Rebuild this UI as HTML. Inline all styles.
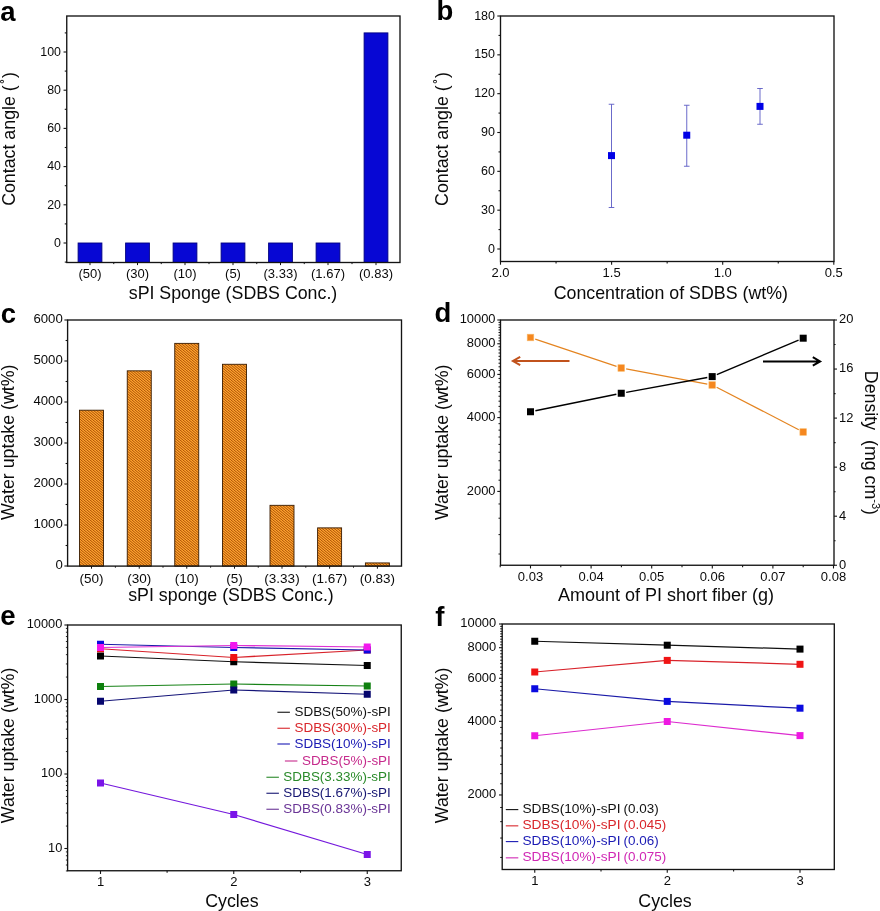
<!DOCTYPE html>
<html lang="en"><head><meta charset="utf-8"><title>Figure</title>
<style>html,body{margin:0;padding:0;background:#fff}svg{display:block}text{font-family:"Liberation Sans",Arial,sans-serif}</style></head><body>
<svg width="880" height="911" viewBox="0 0 880 911">
<defs><pattern id="hatch" width="12" height="10" patternUnits="userSpaceOnUse"><rect width="12" height="10" fill="#fda22e"/><path d="M-15 0 L-3 10 M-12 0 L0 10 M-9 0 L3 10 M-6 0 L6 10 M-3 0 L9 10 M0 0 L12 10 M3 0 L15 10 M6 0 L18 10 M9 0 L21 10 M12 0 L24 10 " stroke="#9c4200" stroke-width="0.85" fill="none"/></pattern></defs>
<rect width="880" height="911" fill="#fff"/>
<text x="0.3" y="20.5" font-size="27.5" text-anchor="start" fill="#000" font-weight="bold" >a</text>
<text x="436.5" y="20" font-size="27.5" text-anchor="start" fill="#000" font-weight="bold" >b</text>
<text x="0.7" y="322.6" font-size="27.5" text-anchor="start" fill="#000" font-weight="bold" >c</text>
<text x="434.6" y="322.4" font-size="27.5" text-anchor="start" fill="#000" font-weight="bold" >d</text>
<text x="0.3" y="624.7" font-size="27.5" text-anchor="start" fill="#000" font-weight="bold" >e</text>
<text x="435.3" y="625.9" font-size="27.5" text-anchor="start" fill="#000" font-weight="bold" >f</text>
<rect x="78.1" y="243" width="23.8" height="19.5" fill="#0707d4" stroke="#000080" stroke-width="0.9" />
<rect x="125.6" y="243" width="23.8" height="19.5" fill="#0707d4" stroke="#000080" stroke-width="0.9" />
<rect x="173.1" y="243" width="23.8" height="19.5" fill="#0707d4" stroke="#000080" stroke-width="0.9" />
<rect x="221.1" y="243" width="23.8" height="19.5" fill="#0707d4" stroke="#000080" stroke-width="0.9" />
<rect x="268.6" y="243" width="23.8" height="19.5" fill="#0707d4" stroke="#000080" stroke-width="0.9" />
<rect x="316.1" y="243" width="23.8" height="19.5" fill="#0707d4" stroke="#000080" stroke-width="0.9" />
<rect x="364.1" y="32.9" width="23.8" height="229.6" fill="#0707d4" stroke="#000080" stroke-width="0.9" />
<rect x="66.75" y="16" width="333.25" height="246.5" fill="none" stroke="#141414" stroke-width="1.35"/>
<line x1="63.55" y1="243" x2="66.75" y2="243" stroke="#141414" stroke-width="1.1" />
<line x1="63.55" y1="204.8" x2="66.75" y2="204.8" stroke="#141414" stroke-width="1.1" />
<line x1="63.55" y1="166.6" x2="66.75" y2="166.6" stroke="#141414" stroke-width="1.1" />
<line x1="63.55" y1="128.4" x2="66.75" y2="128.4" stroke="#141414" stroke-width="1.1" />
<line x1="63.55" y1="90.2" x2="66.75" y2="90.2" stroke="#141414" stroke-width="1.1" />
<line x1="63.55" y1="52" x2="66.75" y2="52" stroke="#141414" stroke-width="1.1" />
<line x1="64.75" y1="262.1" x2="66.75" y2="262.1" stroke="#141414" stroke-width="1.1" />
<line x1="64.75" y1="223.9" x2="66.75" y2="223.9" stroke="#141414" stroke-width="1.1" />
<line x1="64.75" y1="185.7" x2="66.75" y2="185.7" stroke="#141414" stroke-width="1.1" />
<line x1="64.75" y1="147.5" x2="66.75" y2="147.5" stroke="#141414" stroke-width="1.1" />
<line x1="64.75" y1="109.3" x2="66.75" y2="109.3" stroke="#141414" stroke-width="1.1" />
<line x1="64.75" y1="71.1" x2="66.75" y2="71.1" stroke="#141414" stroke-width="1.1" />
<line x1="64.75" y1="32.9" x2="66.75" y2="32.9" stroke="#141414" stroke-width="1.1" />
<line x1="113.75" y1="262.5" x2="113.75" y2="264.1" stroke="#141414" stroke-width="1.0" />
<line x1="161.25" y1="262.5" x2="161.25" y2="264.1" stroke="#141414" stroke-width="1.0" />
<line x1="209" y1="262.5" x2="209" y2="264.1" stroke="#141414" stroke-width="1.0" />
<line x1="256.75" y1="262.5" x2="256.75" y2="264.1" stroke="#141414" stroke-width="1.0" />
<line x1="304.25" y1="262.5" x2="304.25" y2="264.1" stroke="#141414" stroke-width="1.0" />
<line x1="352" y1="262.5" x2="352" y2="264.1" stroke="#141414" stroke-width="1.0" />
<line x1="90" y1="262.5" x2="90" y2="265.1" stroke="#141414" stroke-width="1.0" />
<line x1="137.5" y1="262.5" x2="137.5" y2="265.1" stroke="#141414" stroke-width="1.0" />
<line x1="185" y1="262.5" x2="185" y2="265.1" stroke="#141414" stroke-width="1.0" />
<line x1="233" y1="262.5" x2="233" y2="265.1" stroke="#141414" stroke-width="1.0" />
<line x1="280.5" y1="262.5" x2="280.5" y2="265.1" stroke="#141414" stroke-width="1.0" />
<line x1="328" y1="262.5" x2="328" y2="265.1" stroke="#141414" stroke-width="1.0" />
<line x1="376" y1="262.5" x2="376" y2="265.1" stroke="#141414" stroke-width="1.0" />
<text x="61" y="246.7" font-size="12.4" text-anchor="end" fill="#0a0a0a" font-weight="normal" >0</text>
<text x="61" y="208.5" font-size="12.4" text-anchor="end" fill="#0a0a0a" font-weight="normal" >20</text>
<text x="61" y="170.3" font-size="12.4" text-anchor="end" fill="#0a0a0a" font-weight="normal" >40</text>
<text x="61" y="132.1" font-size="12.4" text-anchor="end" fill="#0a0a0a" font-weight="normal" >60</text>
<text x="61" y="93.9" font-size="12.4" text-anchor="end" fill="#0a0a0a" font-weight="normal" >80</text>
<text x="61" y="55.7" font-size="12.4" text-anchor="end" fill="#0a0a0a" font-weight="normal" >100</text>
<text x="90" y="278.3" font-size="13.0" text-anchor="middle" fill="#0a0a0a" font-weight="normal" >(50)</text>
<text x="137.5" y="278.3" font-size="13.0" text-anchor="middle" fill="#0a0a0a" font-weight="normal" >(30)</text>
<text x="185" y="278.3" font-size="13.0" text-anchor="middle" fill="#0a0a0a" font-weight="normal" >(10)</text>
<text x="233" y="278.3" font-size="13.0" text-anchor="middle" fill="#0a0a0a" font-weight="normal" >(5)</text>
<text x="280.5" y="278.3" font-size="13.0" text-anchor="middle" fill="#0a0a0a" font-weight="normal" >(3.33)</text>
<text x="328" y="278.3" font-size="13.0" text-anchor="middle" fill="#0a0a0a" font-weight="normal" >(1.67)</text>
<text x="376" y="278.3" font-size="13.0" text-anchor="middle" fill="#0a0a0a" font-weight="normal" >(0.83)</text>
<text x="233" y="299.1" font-size="17.8" text-anchor="middle" fill="#0a0a0a" font-weight="normal" >sPI Sponge (SDBS Conc.)</text>
<text x="14.5" y="139" font-size="17.8" text-anchor="middle" fill="#0a0a0a" font-weight="normal" transform="rotate(-90 14.5 139)" >Contact angle (<tspan font-size="11" font-weight="bold" dy="-6.5" dx="1.6">°</tspan><tspan dy="6.5" dx="1.2">)</tspan></text>
<rect x="500.5" y="16" width="333.5" height="245.5" fill="none" stroke="#141414" stroke-width="1.35"/>
<line x1="497.3" y1="249" x2="500.5" y2="249" stroke="#141414" stroke-width="1.1" />
<line x1="497.3" y1="210.17" x2="500.5" y2="210.17" stroke="#141414" stroke-width="1.1" />
<line x1="497.3" y1="171.34" x2="500.5" y2="171.34" stroke="#141414" stroke-width="1.1" />
<line x1="497.3" y1="132.5" x2="500.5" y2="132.5" stroke="#141414" stroke-width="1.1" />
<line x1="497.3" y1="93.67" x2="500.5" y2="93.67" stroke="#141414" stroke-width="1.1" />
<line x1="497.3" y1="54.84" x2="500.5" y2="54.84" stroke="#141414" stroke-width="1.1" />
<line x1="497.3" y1="16.01" x2="500.5" y2="16.01" stroke="#141414" stroke-width="1.1" />
<line x1="498.5" y1="229.58" x2="500.5" y2="229.58" stroke="#141414" stroke-width="1.1" />
<line x1="498.5" y1="190.75" x2="500.5" y2="190.75" stroke="#141414" stroke-width="1.1" />
<line x1="498.5" y1="151.92" x2="500.5" y2="151.92" stroke="#141414" stroke-width="1.1" />
<line x1="498.5" y1="113.09" x2="500.5" y2="113.09" stroke="#141414" stroke-width="1.1" />
<line x1="498.5" y1="74.26" x2="500.5" y2="74.26" stroke="#141414" stroke-width="1.1" />
<line x1="498.5" y1="35.42" x2="500.5" y2="35.42" stroke="#141414" stroke-width="1.1" />
<line x1="500.5" y1="261.5" x2="500.5" y2="264.7" stroke="#141414" stroke-width="1.1" />
<line x1="611.6" y1="261.5" x2="611.6" y2="264.7" stroke="#141414" stroke-width="1.1" />
<line x1="722.7" y1="261.5" x2="722.7" y2="264.7" stroke="#141414" stroke-width="1.1" />
<line x1="833.8" y1="261.5" x2="833.8" y2="264.7" stroke="#141414" stroke-width="1.1" />
<line x1="556.05" y1="261.5" x2="556.05" y2="263.5" stroke="#141414" stroke-width="1.1" />
<line x1="667.15" y1="261.5" x2="667.15" y2="263.5" stroke="#141414" stroke-width="1.1" />
<line x1="778.25" y1="261.5" x2="778.25" y2="263.5" stroke="#141414" stroke-width="1.1" />
<text x="495" y="252.6" font-size="12.5" text-anchor="end" fill="#0a0a0a" font-weight="normal" >0</text>
<text x="495" y="213.77" font-size="12.5" text-anchor="end" fill="#0a0a0a" font-weight="normal" >30</text>
<text x="495" y="174.94" font-size="12.5" text-anchor="end" fill="#0a0a0a" font-weight="normal" >60</text>
<text x="495" y="136.1" font-size="12.5" text-anchor="end" fill="#0a0a0a" font-weight="normal" >90</text>
<text x="495" y="97.27" font-size="12.5" text-anchor="end" fill="#0a0a0a" font-weight="normal" >120</text>
<text x="495" y="58.44" font-size="12.5" text-anchor="end" fill="#0a0a0a" font-weight="normal" >150</text>
<text x="495" y="19.61" font-size="12.5" text-anchor="end" fill="#0a0a0a" font-weight="normal" >180</text>
<text x="500.5" y="277" font-size="13.0" text-anchor="middle" fill="#0a0a0a" font-weight="normal" >2.0</text>
<text x="611.6" y="277" font-size="13.0" text-anchor="middle" fill="#0a0a0a" font-weight="normal" >1.5</text>
<text x="722.7" y="277" font-size="13.0" text-anchor="middle" fill="#0a0a0a" font-weight="normal" >1.0</text>
<text x="833.8" y="277" font-size="13.0" text-anchor="middle" fill="#0a0a0a" font-weight="normal" >0.5</text>
<line x1="611.5" y1="104.25" x2="611.5" y2="207.5" stroke="#5a5ac4" stroke-width="0.9" />
<line x1="608.7" y1="104.25" x2="614.3" y2="104.25" stroke="#5a5ac4" stroke-width="0.9" />
<line x1="608.7" y1="207.5" x2="614.3" y2="207.5" stroke="#5a5ac4" stroke-width="0.9" />
<rect x="608" y="152.1" width="7" height="7" fill="#0000e6" stroke="none" stroke-width="0.6" />
<line x1="686.75" y1="105.25" x2="686.75" y2="166.25" stroke="#5a5ac4" stroke-width="0.9" />
<line x1="683.95" y1="105.25" x2="689.55" y2="105.25" stroke="#5a5ac4" stroke-width="0.9" />
<line x1="683.95" y1="166.25" x2="689.55" y2="166.25" stroke="#5a5ac4" stroke-width="0.9" />
<rect x="683.25" y="131.7" width="7" height="7" fill="#0000e6" stroke="none" stroke-width="0.6" />
<line x1="760" y1="88.5" x2="760" y2="124.25" stroke="#5a5ac4" stroke-width="0.9" />
<line x1="757.2" y1="88.5" x2="762.8" y2="88.5" stroke="#5a5ac4" stroke-width="0.9" />
<line x1="757.2" y1="124.25" x2="762.8" y2="124.25" stroke="#5a5ac4" stroke-width="0.9" />
<rect x="756.5" y="102.9" width="7" height="7" fill="#0000e6" stroke="none" stroke-width="0.6" />
<text x="670.8" y="299.4" font-size="17.8" text-anchor="middle" fill="#0a0a0a" font-weight="normal" >Concentration of SDBS (wt%)</text>
<text x="447.5" y="139" font-size="17.8" text-anchor="middle" fill="#0a0a0a" font-weight="normal" transform="rotate(-90 447.5 139)" >Contact angle (<tspan font-size="11" font-weight="bold" dy="-6.5" dx="1.6">°</tspan><tspan dy="6.5" dx="1.2">)</tspan></text>
<rect x="79.5" y="410.2" width="24" height="155.9" fill="url(#hatch)" stroke="#3a1c00" stroke-width="0.9" />
<rect x="127.25" y="370.84" width="24" height="195.26" fill="url(#hatch)" stroke="#3a1c00" stroke-width="0.9" />
<rect x="174.75" y="343.37" width="24" height="222.73" fill="url(#hatch)" stroke="#3a1c00" stroke-width="0.9" />
<rect x="222.5" y="364.28" width="24" height="201.82" fill="url(#hatch)" stroke="#3a1c00" stroke-width="0.9" />
<rect x="270" y="505.32" width="24" height="60.78" fill="url(#hatch)" stroke="#3a1c00" stroke-width="0.9" />
<rect x="317.6" y="527.87" width="24" height="38.23" fill="url(#hatch)" stroke="#3a1c00" stroke-width="0.9" />
<rect x="365.4" y="562.92" width="24" height="3.18" fill="url(#hatch)" stroke="#3a1c00" stroke-width="0.9" />
<rect x="67.6" y="320" width="333.9" height="246.1" fill="none" stroke="#141414" stroke-width="1.35"/>
<line x1="64.4" y1="566" x2="67.6" y2="566" stroke="#141414" stroke-width="1.1" />
<line x1="64.4" y1="525" x2="67.6" y2="525" stroke="#141414" stroke-width="1.1" />
<line x1="64.4" y1="484" x2="67.6" y2="484" stroke="#141414" stroke-width="1.1" />
<line x1="64.4" y1="443" x2="67.6" y2="443" stroke="#141414" stroke-width="1.1" />
<line x1="64.4" y1="402" x2="67.6" y2="402" stroke="#141414" stroke-width="1.1" />
<line x1="64.4" y1="361" x2="67.6" y2="361" stroke="#141414" stroke-width="1.1" />
<line x1="64.4" y1="320" x2="67.6" y2="320" stroke="#141414" stroke-width="1.1" />
<line x1="65.6" y1="545.5" x2="67.6" y2="545.5" stroke="#141414" stroke-width="1.1" />
<line x1="65.6" y1="504.5" x2="67.6" y2="504.5" stroke="#141414" stroke-width="1.1" />
<line x1="65.6" y1="463.5" x2="67.6" y2="463.5" stroke="#141414" stroke-width="1.1" />
<line x1="65.6" y1="422.5" x2="67.6" y2="422.5" stroke="#141414" stroke-width="1.1" />
<line x1="65.6" y1="381.5" x2="67.6" y2="381.5" stroke="#141414" stroke-width="1.1" />
<line x1="65.6" y1="340.5" x2="67.6" y2="340.5" stroke="#141414" stroke-width="1.1" />
<line x1="115.38" y1="566.1" x2="115.38" y2="567.7" stroke="#141414" stroke-width="1.0" />
<line x1="163" y1="566.1" x2="163" y2="567.7" stroke="#141414" stroke-width="1.0" />
<line x1="210.62" y1="566.1" x2="210.62" y2="567.7" stroke="#141414" stroke-width="1.0" />
<line x1="258.25" y1="566.1" x2="258.25" y2="567.7" stroke="#141414" stroke-width="1.0" />
<line x1="305.8" y1="566.1" x2="305.8" y2="567.7" stroke="#141414" stroke-width="1.0" />
<line x1="353.5" y1="566.1" x2="353.5" y2="567.7" stroke="#141414" stroke-width="1.0" />
<line x1="91.5" y1="566.1" x2="91.5" y2="568.7" stroke="#141414" stroke-width="1.0" />
<line x1="139.25" y1="566.1" x2="139.25" y2="568.7" stroke="#141414" stroke-width="1.0" />
<line x1="186.75" y1="566.1" x2="186.75" y2="568.7" stroke="#141414" stroke-width="1.0" />
<line x1="234.5" y1="566.1" x2="234.5" y2="568.7" stroke="#141414" stroke-width="1.0" />
<line x1="282" y1="566.1" x2="282" y2="568.7" stroke="#141414" stroke-width="1.0" />
<line x1="329.6" y1="566.1" x2="329.6" y2="568.7" stroke="#141414" stroke-width="1.0" />
<line x1="377.4" y1="566.1" x2="377.4" y2="568.7" stroke="#141414" stroke-width="1.0" />
<text x="62.8" y="569.2" font-size="13.2" text-anchor="end" fill="#0a0a0a" font-weight="normal" >0</text>
<text x="62.8" y="528.2" font-size="13.2" text-anchor="end" fill="#0a0a0a" font-weight="normal" >1000</text>
<text x="62.8" y="487.2" font-size="13.2" text-anchor="end" fill="#0a0a0a" font-weight="normal" >2000</text>
<text x="62.8" y="446.2" font-size="13.2" text-anchor="end" fill="#0a0a0a" font-weight="normal" >3000</text>
<text x="62.8" y="405.2" font-size="13.2" text-anchor="end" fill="#0a0a0a" font-weight="normal" >4000</text>
<text x="62.8" y="364.2" font-size="13.2" text-anchor="end" fill="#0a0a0a" font-weight="normal" >5000</text>
<text x="62.8" y="323.2" font-size="13.2" text-anchor="end" fill="#0a0a0a" font-weight="normal" >6000</text>
<text x="91.5" y="582.9" font-size="13.5" text-anchor="middle" fill="#0a0a0a" font-weight="normal" >(50)</text>
<text x="139.25" y="582.9" font-size="13.5" text-anchor="middle" fill="#0a0a0a" font-weight="normal" >(30)</text>
<text x="186.75" y="582.9" font-size="13.5" text-anchor="middle" fill="#0a0a0a" font-weight="normal" >(10)</text>
<text x="234.5" y="582.9" font-size="13.5" text-anchor="middle" fill="#0a0a0a" font-weight="normal" >(5)</text>
<text x="282" y="582.9" font-size="13.5" text-anchor="middle" fill="#0a0a0a" font-weight="normal" >(3.33)</text>
<text x="329.6" y="582.9" font-size="13.5" text-anchor="middle" fill="#0a0a0a" font-weight="normal" >(1.67)</text>
<text x="377.4" y="582.9" font-size="13.5" text-anchor="middle" fill="#0a0a0a" font-weight="normal" >(0.83)</text>
<text x="231" y="600.8" font-size="17.8" text-anchor="middle" fill="#0a0a0a" font-weight="normal" >sPI sponge (SDBS Conc.)</text>
<text x="14" y="442.3" font-size="17.8" text-anchor="middle" fill="#0a0a0a" font-weight="normal" transform="rotate(-90 14 442.3)" >Water uptake (wt%)</text>
<line x1="535.24" y1="339.09" x2="616.51" y2="366.41" stroke="#e48420" stroke-width="1.15" />
<line x1="626.16" y1="368.92" x2="707.29" y2="384.08" stroke="#e48420" stroke-width="1.15" />
<line x1="716.64" y1="387.29" x2="798.76" y2="429.71" stroke="#e48420" stroke-width="1.15" />
<rect x="527.2" y="334.2" width="6.6" height="6.6" fill="#f5871f" stroke="#f9b96a" stroke-width="0.6" />
<rect x="617.95" y="364.7" width="6.6" height="6.6" fill="#f5871f" stroke="#f9b96a" stroke-width="0.6" />
<rect x="708.9" y="381.7" width="6.6" height="6.6" fill="#f5871f" stroke="#f9b96a" stroke-width="0.6" />
<rect x="799.9" y="428.7" width="6.6" height="6.6" fill="#f5871f" stroke="#f9b96a" stroke-width="0.6" />
<line x1="535.4" y1="410.75" x2="616.35" y2="394.25" stroke="#000" stroke-width="1.4" />
<line x1="626.17" y1="392.35" x2="707.28" y2="377.5" stroke="#000" stroke-width="1.4" />
<line x1="716.81" y1="374.66" x2="798.59" y2="340.14" stroke="#000" stroke-width="1.4" />
<rect x="527" y="408.25" width="7" height="7" fill="#000" stroke="none" stroke-width="0.6" />
<rect x="617.75" y="389.75" width="7" height="7" fill="#000" stroke="none" stroke-width="0.6" />
<rect x="708.7" y="373.1" width="7" height="7" fill="#000" stroke="none" stroke-width="0.6" />
<rect x="799.7" y="334.7" width="7" height="7" fill="#000" stroke="none" stroke-width="0.6" />
<rect x="500.5" y="320" width="333.5" height="245.25" fill="none" stroke="#141414" stroke-width="1.35"/>
<line x1="497.3" y1="491.42" x2="500.5" y2="491.42" stroke="#141414" stroke-width="1.1" />
<line x1="497.3" y1="417.59" x2="500.5" y2="417.59" stroke="#141414" stroke-width="1.1" />
<line x1="497.3" y1="374.41" x2="500.5" y2="374.41" stroke="#141414" stroke-width="1.1" />
<line x1="497.3" y1="343.77" x2="500.5" y2="343.77" stroke="#141414" stroke-width="1.1" />
<line x1="497.3" y1="320" x2="500.5" y2="320" stroke="#141414" stroke-width="1.1" />
<line x1="498.5" y1="554.03" x2="500.5" y2="554.03" stroke="#141414" stroke-width="1.0" />
<line x1="498.5" y1="534.61" x2="500.5" y2="534.61" stroke="#141414" stroke-width="1.0" />
<line x1="498.5" y1="518.19" x2="500.5" y2="518.19" stroke="#141414" stroke-width="1.0" />
<line x1="498.5" y1="503.97" x2="500.5" y2="503.97" stroke="#141414" stroke-width="1.0" />
<line x1="498.5" y1="480.2" x2="500.5" y2="480.2" stroke="#141414" stroke-width="1.0" />
<line x1="498.5" y1="470.05" x2="500.5" y2="470.05" stroke="#141414" stroke-width="1.0" />
<line x1="498.5" y1="460.78" x2="500.5" y2="460.78" stroke="#141414" stroke-width="1.0" />
<line x1="498.5" y1="452.26" x2="500.5" y2="452.26" stroke="#141414" stroke-width="1.0" />
<line x1="498.5" y1="444.36" x2="500.5" y2="444.36" stroke="#141414" stroke-width="1.0" />
<line x1="498.5" y1="437.01" x2="500.5" y2="437.01" stroke="#141414" stroke-width="1.0" />
<line x1="498.5" y1="430.14" x2="500.5" y2="430.14" stroke="#141414" stroke-width="1.0" />
<line x1="498.5" y1="423.68" x2="500.5" y2="423.68" stroke="#141414" stroke-width="1.0" />
<line x1="498.5" y1="411.84" x2="500.5" y2="411.84" stroke="#141414" stroke-width="1.0" />
<line x1="498.5" y1="406.37" x2="500.5" y2="406.37" stroke="#141414" stroke-width="1.0" />
<line x1="498.5" y1="401.18" x2="500.5" y2="401.18" stroke="#141414" stroke-width="1.0" />
<line x1="498.5" y1="396.22" x2="500.5" y2="396.22" stroke="#141414" stroke-width="1.0" />
<line x1="498.5" y1="391.49" x2="500.5" y2="391.49" stroke="#141414" stroke-width="1.0" />
<line x1="498.5" y1="386.95" x2="500.5" y2="386.95" stroke="#141414" stroke-width="1.0" />
<line x1="498.5" y1="382.61" x2="500.5" y2="382.61" stroke="#141414" stroke-width="1.0" />
<line x1="498.5" y1="378.43" x2="500.5" y2="378.43" stroke="#141414" stroke-width="1.0" />
<line x1="498.5" y1="370.53" x2="500.5" y2="370.53" stroke="#141414" stroke-width="1.0" />
<line x1="498.5" y1="366.8" x2="500.5" y2="366.8" stroke="#141414" stroke-width="1.0" />
<line x1="498.5" y1="363.19" x2="500.5" y2="363.19" stroke="#141414" stroke-width="1.0" />
<line x1="498.5" y1="359.69" x2="500.5" y2="359.69" stroke="#141414" stroke-width="1.0" />
<line x1="498.5" y1="356.31" x2="500.5" y2="356.31" stroke="#141414" stroke-width="1.0" />
<line x1="498.5" y1="353.03" x2="500.5" y2="353.03" stroke="#141414" stroke-width="1.0" />
<line x1="498.5" y1="349.86" x2="500.5" y2="349.86" stroke="#141414" stroke-width="1.0" />
<line x1="498.5" y1="346.77" x2="500.5" y2="346.77" stroke="#141414" stroke-width="1.0" />
<line x1="498.5" y1="340.85" x2="500.5" y2="340.85" stroke="#141414" stroke-width="1.0" />
<line x1="498.5" y1="338.01" x2="500.5" y2="338.01" stroke="#141414" stroke-width="1.0" />
<line x1="498.5" y1="335.24" x2="500.5" y2="335.24" stroke="#141414" stroke-width="1.0" />
<line x1="498.5" y1="332.55" x2="500.5" y2="332.55" stroke="#141414" stroke-width="1.0" />
<line x1="498.5" y1="329.92" x2="500.5" y2="329.92" stroke="#141414" stroke-width="1.0" />
<line x1="498.5" y1="327.35" x2="500.5" y2="327.35" stroke="#141414" stroke-width="1.0" />
<line x1="498.5" y1="324.84" x2="500.5" y2="324.84" stroke="#141414" stroke-width="1.0" />
<line x1="498.5" y1="322.39" x2="500.5" y2="322.39" stroke="#141414" stroke-width="1.0" />
<line x1="834" y1="565.25" x2="837" y2="565.25" stroke="#141414" stroke-width="1.1" />
<line x1="834" y1="516.2" x2="837" y2="516.2" stroke="#141414" stroke-width="1.1" />
<line x1="834" y1="467.15" x2="837" y2="467.15" stroke="#141414" stroke-width="1.1" />
<line x1="834" y1="418.1" x2="837" y2="418.1" stroke="#141414" stroke-width="1.1" />
<line x1="834" y1="369.05" x2="837" y2="369.05" stroke="#141414" stroke-width="1.1" />
<line x1="834" y1="320" x2="837" y2="320" stroke="#141414" stroke-width="1.1" />
<line x1="834" y1="540.73" x2="835.6" y2="540.73" stroke="#141414" stroke-width="1.1" />
<line x1="834" y1="491.68" x2="835.6" y2="491.68" stroke="#141414" stroke-width="1.1" />
<line x1="834" y1="442.62" x2="835.6" y2="442.62" stroke="#141414" stroke-width="1.1" />
<line x1="834" y1="393.58" x2="835.6" y2="393.58" stroke="#141414" stroke-width="1.1" />
<line x1="834" y1="344.52" x2="835.6" y2="344.52" stroke="#141414" stroke-width="1.1" />
<line x1="530.5" y1="565.25" x2="530.5" y2="568.45" stroke="#141414" stroke-width="1.1" />
<line x1="591.1" y1="565.25" x2="591.1" y2="568.45" stroke="#141414" stroke-width="1.1" />
<line x1="651.7" y1="565.25" x2="651.7" y2="568.45" stroke="#141414" stroke-width="1.1" />
<line x1="712.3" y1="565.25" x2="712.3" y2="568.45" stroke="#141414" stroke-width="1.1" />
<line x1="772.9" y1="565.25" x2="772.9" y2="568.45" stroke="#141414" stroke-width="1.1" />
<line x1="833.5" y1="565.25" x2="833.5" y2="568.45" stroke="#141414" stroke-width="1.1" />
<line x1="500.2" y1="565.25" x2="500.2" y2="567.25" stroke="#141414" stroke-width="1.1" />
<line x1="560.8" y1="565.25" x2="560.8" y2="567.25" stroke="#141414" stroke-width="1.1" />
<line x1="621.4" y1="565.25" x2="621.4" y2="567.25" stroke="#141414" stroke-width="1.1" />
<line x1="682" y1="565.25" x2="682" y2="567.25" stroke="#141414" stroke-width="1.1" />
<line x1="742.6" y1="565.25" x2="742.6" y2="567.25" stroke="#141414" stroke-width="1.1" />
<line x1="803.2" y1="565.25" x2="803.2" y2="567.25" stroke="#141414" stroke-width="1.1" />
<text x="495.5" y="494.72" font-size="12.9" text-anchor="end" fill="#0a0a0a" font-weight="normal" >2000</text>
<text x="495.5" y="420.89" font-size="12.9" text-anchor="end" fill="#0a0a0a" font-weight="normal" >4000</text>
<text x="495.5" y="377.71" font-size="12.9" text-anchor="end" fill="#0a0a0a" font-weight="normal" >6000</text>
<text x="495.5" y="347.07" font-size="12.9" text-anchor="end" fill="#0a0a0a" font-weight="normal" >8000</text>
<text x="495.5" y="323.3" font-size="12.9" text-anchor="end" fill="#0a0a0a" font-weight="normal" >10000</text>
<text x="839" y="568.65" font-size="12.9" text-anchor="start" fill="#0a0a0a" font-weight="normal" >0</text>
<text x="839" y="519.6" font-size="12.9" text-anchor="start" fill="#0a0a0a" font-weight="normal" >4</text>
<text x="839" y="470.55" font-size="12.9" text-anchor="start" fill="#0a0a0a" font-weight="normal" >8</text>
<text x="839" y="421.5" font-size="12.9" text-anchor="start" fill="#0a0a0a" font-weight="normal" >12</text>
<text x="839" y="372.45" font-size="12.9" text-anchor="start" fill="#0a0a0a" font-weight="normal" >16</text>
<text x="839" y="323.4" font-size="12.9" text-anchor="start" fill="#0a0a0a" font-weight="normal" >20</text>
<text x="530.5" y="580.7" font-size="13.0" text-anchor="middle" fill="#0a0a0a" font-weight="normal" >0.03</text>
<text x="591.1" y="580.7" font-size="13.0" text-anchor="middle" fill="#0a0a0a" font-weight="normal" >0.04</text>
<text x="651.7" y="580.7" font-size="13.0" text-anchor="middle" fill="#0a0a0a" font-weight="normal" >0.05</text>
<text x="712.3" y="580.7" font-size="13.0" text-anchor="middle" fill="#0a0a0a" font-weight="normal" >0.06</text>
<text x="772.9" y="580.7" font-size="13.0" text-anchor="middle" fill="#0a0a0a" font-weight="normal" >0.07</text>
<text x="833.5" y="580.7" font-size="13.0" text-anchor="middle" fill="#0a0a0a" font-weight="normal" >0.08</text>
<text x="666" y="600.9" font-size="18.0" text-anchor="middle" fill="#0a0a0a" font-weight="normal" >Amount of PI short fiber (g)</text>
<text x="447.7" y="442.3" font-size="17.8" text-anchor="middle" fill="#0a0a0a" font-weight="normal" transform="rotate(-90 447.7 442.3)" >Water uptake (wt%)</text>
<text x="865.2" y="442.9" font-size="17.8" text-anchor="middle" fill="#0a0a0a" transform="rotate(90 865.2 442.9)">Density &#160;(mg cm<tspan font-size="11" dy="-6.5">-3</tspan><tspan dy="6.5">)</tspan></text>
<path d="M569.5 361 H513.6 M520.2 356.8 L512.9 361 L520.2 365.2" fill="none" stroke="#c1521c" stroke-width="2.0" stroke-linejoin="miter"/>
<path d="M763 361.4 H819.4 M812.8 357.2 L820.1 361.4 L812.8 365.6" fill="none" stroke="#000" stroke-width="2.0" stroke-linejoin="miter"/>
<line x1="100.5" y1="656" x2="233.75" y2="661.75" stroke="#101010" stroke-width="1.25" />
<line x1="233.75" y1="661.75" x2="367.25" y2="665.5" stroke="#101010" stroke-width="1.25" />
<rect x="97" y="652.5" width="7" height="7" fill="#000000" stroke="none" stroke-width="0.6" />
<rect x="230.25" y="658.25" width="7" height="7" fill="#000000" stroke="none" stroke-width="0.6" />
<rect x="363.75" y="662" width="7" height="7" fill="#000000" stroke="none" stroke-width="0.6" />
<line x1="100.5" y1="648.75" x2="233.75" y2="657.5" stroke="#d8222a" stroke-width="1.25" />
<line x1="233.75" y1="657.5" x2="367.25" y2="650" stroke="#d8222a" stroke-width="1.25" />
<rect x="97" y="645.25" width="7" height="7" fill="#f01414" stroke="none" stroke-width="0.6" />
<rect x="230.25" y="654" width="7" height="7" fill="#f01414" stroke="none" stroke-width="0.6" />
<rect x="363.75" y="646.5" width="7" height="7" fill="#f01414" stroke="none" stroke-width="0.6" />
<line x1="100.5" y1="644.25" x2="233.75" y2="647.5" stroke="#1a1aa8" stroke-width="1.25" />
<line x1="233.75" y1="647.5" x2="367.25" y2="650" stroke="#1a1aa8" stroke-width="1.25" />
<rect x="97" y="640.75" width="7" height="7" fill="#0a0ae0" stroke="none" stroke-width="0.6" />
<rect x="230.25" y="644" width="7" height="7" fill="#0a0ae0" stroke="none" stroke-width="0.6" />
<rect x="363.75" y="646.5" width="7" height="7" fill="#0a0ae0" stroke="none" stroke-width="0.6" />
<line x1="100.5" y1="647.5" x2="233.75" y2="645.5" stroke="#e030d4" stroke-width="1.25" />
<line x1="233.75" y1="645.5" x2="367.25" y2="647" stroke="#e030d4" stroke-width="1.25" />
<rect x="97" y="644" width="7" height="7" fill="#f218ee" stroke="none" stroke-width="0.6" />
<rect x="230.25" y="642" width="7" height="7" fill="#f218ee" stroke="none" stroke-width="0.6" />
<rect x="363.75" y="643.5" width="7" height="7" fill="#f218ee" stroke="none" stroke-width="0.6" />
<line x1="100.5" y1="686.5" x2="233.75" y2="684" stroke="#178217" stroke-width="1.25" />
<line x1="233.75" y1="684" x2="367.25" y2="686" stroke="#178217" stroke-width="1.25" />
<rect x="97" y="683" width="7" height="7" fill="#0e800e" stroke="none" stroke-width="0.6" />
<rect x="230.25" y="680.5" width="7" height="7" fill="#0e800e" stroke="none" stroke-width="0.6" />
<rect x="363.75" y="682.5" width="7" height="7" fill="#0e800e" stroke="none" stroke-width="0.6" />
<line x1="100.5" y1="701.25" x2="233.75" y2="690" stroke="#141478" stroke-width="1.25" />
<line x1="233.75" y1="690" x2="367.25" y2="694.25" stroke="#141478" stroke-width="1.25" />
<rect x="97" y="697.75" width="7" height="7" fill="#06066e" stroke="none" stroke-width="0.6" />
<rect x="230.25" y="686.5" width="7" height="7" fill="#06066e" stroke="none" stroke-width="0.6" />
<rect x="363.75" y="690.75" width="7" height="7" fill="#06066e" stroke="none" stroke-width="0.6" />
<line x1="100.5" y1="783" x2="233.75" y2="814.5" stroke="#7418dc" stroke-width="1.25" />
<line x1="233.75" y1="814.5" x2="367.25" y2="854.5" stroke="#7418dc" stroke-width="1.25" />
<rect x="97" y="779.5" width="7" height="7" fill="#7a14e8" stroke="none" stroke-width="0.6" />
<rect x="230.25" y="811" width="7" height="7" fill="#7a14e8" stroke="none" stroke-width="0.6" />
<rect x="363.75" y="851" width="7" height="7" fill="#7a14e8" stroke="none" stroke-width="0.6" />
<rect x="67.6" y="625" width="333.65" height="245.75" fill="none" stroke="#141414" stroke-width="1.35"/>
<line x1="64.4" y1="848.5" x2="67.6" y2="848.5" stroke="#141414" stroke-width="1.1" />
<line x1="64.4" y1="774" x2="67.6" y2="774" stroke="#141414" stroke-width="1.1" />
<line x1="64.4" y1="699.5" x2="67.6" y2="699.5" stroke="#141414" stroke-width="1.1" />
<line x1="64.4" y1="625" x2="67.6" y2="625" stroke="#141414" stroke-width="1.1" />
<line x1="65.9" y1="870.93" x2="67.6" y2="870.93" stroke="#141414" stroke-width="0.9" />
<line x1="65.9" y1="865.03" x2="67.6" y2="865.03" stroke="#141414" stroke-width="0.9" />
<line x1="65.9" y1="860.04" x2="67.6" y2="860.04" stroke="#141414" stroke-width="0.9" />
<line x1="65.9" y1="855.72" x2="67.6" y2="855.72" stroke="#141414" stroke-width="0.9" />
<line x1="65.9" y1="851.91" x2="67.6" y2="851.91" stroke="#141414" stroke-width="0.9" />
<line x1="65.9" y1="826.07" x2="67.6" y2="826.07" stroke="#141414" stroke-width="0.9" />
<line x1="65.9" y1="812.95" x2="67.6" y2="812.95" stroke="#141414" stroke-width="0.9" />
<line x1="65.9" y1="803.65" x2="67.6" y2="803.65" stroke="#141414" stroke-width="0.9" />
<line x1="65.9" y1="796.43" x2="67.6" y2="796.43" stroke="#141414" stroke-width="0.9" />
<line x1="65.9" y1="790.53" x2="67.6" y2="790.53" stroke="#141414" stroke-width="0.9" />
<line x1="65.9" y1="785.54" x2="67.6" y2="785.54" stroke="#141414" stroke-width="0.9" />
<line x1="65.9" y1="781.22" x2="67.6" y2="781.22" stroke="#141414" stroke-width="0.9" />
<line x1="65.9" y1="777.41" x2="67.6" y2="777.41" stroke="#141414" stroke-width="0.9" />
<line x1="65.9" y1="751.57" x2="67.6" y2="751.57" stroke="#141414" stroke-width="0.9" />
<line x1="65.9" y1="738.45" x2="67.6" y2="738.45" stroke="#141414" stroke-width="0.9" />
<line x1="65.9" y1="729.15" x2="67.6" y2="729.15" stroke="#141414" stroke-width="0.9" />
<line x1="65.9" y1="721.93" x2="67.6" y2="721.93" stroke="#141414" stroke-width="0.9" />
<line x1="65.9" y1="716.03" x2="67.6" y2="716.03" stroke="#141414" stroke-width="0.9" />
<line x1="65.9" y1="711.04" x2="67.6" y2="711.04" stroke="#141414" stroke-width="0.9" />
<line x1="65.9" y1="706.72" x2="67.6" y2="706.72" stroke="#141414" stroke-width="0.9" />
<line x1="65.9" y1="702.91" x2="67.6" y2="702.91" stroke="#141414" stroke-width="0.9" />
<line x1="65.9" y1="677.07" x2="67.6" y2="677.07" stroke="#141414" stroke-width="0.9" />
<line x1="65.9" y1="663.95" x2="67.6" y2="663.95" stroke="#141414" stroke-width="0.9" />
<line x1="65.9" y1="654.65" x2="67.6" y2="654.65" stroke="#141414" stroke-width="0.9" />
<line x1="65.9" y1="647.43" x2="67.6" y2="647.43" stroke="#141414" stroke-width="0.9" />
<line x1="65.9" y1="641.53" x2="67.6" y2="641.53" stroke="#141414" stroke-width="0.9" />
<line x1="65.9" y1="636.54" x2="67.6" y2="636.54" stroke="#141414" stroke-width="0.9" />
<line x1="65.9" y1="632.22" x2="67.6" y2="632.22" stroke="#141414" stroke-width="0.9" />
<line x1="65.9" y1="628.41" x2="67.6" y2="628.41" stroke="#141414" stroke-width="0.9" />
<line x1="100.5" y1="870.75" x2="100.5" y2="873.95" stroke="#141414" stroke-width="1.1" />
<line x1="233.75" y1="870.75" x2="233.75" y2="873.95" stroke="#141414" stroke-width="1.1" />
<line x1="367.25" y1="870.75" x2="367.25" y2="873.95" stroke="#141414" stroke-width="1.1" />
<line x1="167.1" y1="870.75" x2="167.1" y2="872.75" stroke="#141414" stroke-width="1.1" />
<line x1="300.5" y1="870.75" x2="300.5" y2="872.75" stroke="#141414" stroke-width="1.1" />
<text x="62.3" y="851.6" font-size="12.8" text-anchor="end" fill="#0a0a0a" font-weight="normal" >10</text>
<text x="62.3" y="777.1" font-size="12.8" text-anchor="end" fill="#0a0a0a" font-weight="normal" >100</text>
<text x="62.3" y="702.6" font-size="12.8" text-anchor="end" fill="#0a0a0a" font-weight="normal" >1000</text>
<text x="62.3" y="628.1" font-size="12.8" text-anchor="end" fill="#0a0a0a" font-weight="normal" >10000</text>
<text x="100.5" y="885.6" font-size="13.0" text-anchor="middle" fill="#0a0a0a" font-weight="normal" >1</text>
<text x="233.75" y="885.6" font-size="13.0" text-anchor="middle" fill="#0a0a0a" font-weight="normal" >2</text>
<text x="367.25" y="885.6" font-size="13.0" text-anchor="middle" fill="#0a0a0a" font-weight="normal" >3</text>
<text x="231.9" y="907.3" font-size="17.8" text-anchor="middle" fill="#0a0a0a" font-weight="normal" >Cycles</text>
<text x="14" y="745.4" font-size="17.8" text-anchor="middle" fill="#0a0a0a" font-weight="normal" transform="rotate(-90 14 745.4)" >Water uptake (wt%)</text>
<text x="390.8" y="715.75" font-size="13.45" text-anchor="end" fill="#111111" font-weight="normal" >SDBS(50%)-sPI</text>
<line x1="277.4" y1="712.25" x2="289.9" y2="712.25" stroke="#111111" stroke-width="1.1" />
<text x="390.8" y="731.75" font-size="13.45" text-anchor="end" fill="#d9262b" font-weight="normal" >SDBS(30%)-sPI</text>
<line x1="277.4" y1="728.25" x2="289.9" y2="728.25" stroke="#d9262b" stroke-width="1.1" />
<text x="390.8" y="747.5" font-size="13.45" text-anchor="end" fill="#1a1ab4" font-weight="normal" >SDBS(10%)-sPI</text>
<line x1="277.4" y1="744" x2="289.9" y2="744" stroke="#1a1ab4" stroke-width="1.1" />
<text x="390.8" y="764.5" font-size="13.45" text-anchor="end" fill="#c62a8c" font-weight="normal" >SDBS(5%)-sPI</text>
<line x1="284.9" y1="761" x2="297.4" y2="761" stroke="#c62a8c" stroke-width="1.1" />
<text x="390.8" y="780.75" font-size="13.45" text-anchor="end" fill="#2a8a2a" font-weight="normal" >SDBS(3.33%)-sPI</text>
<line x1="266.4" y1="777.25" x2="278.9" y2="777.25" stroke="#2a8a2a" stroke-width="1.1" />
<text x="390.8" y="796.75" font-size="13.45" text-anchor="end" fill="#161672" font-weight="normal" >SDBS(1.67%)-sPI</text>
<line x1="266.4" y1="793.25" x2="278.9" y2="793.25" stroke="#161672" stroke-width="1.1" />
<text x="390.8" y="812.75" font-size="13.45" text-anchor="end" fill="#6a3596" font-weight="normal" >SDBS(0.83%)-sPI</text>
<line x1="266.4" y1="809.25" x2="278.9" y2="809.25" stroke="#6a3596" stroke-width="1.1" />
<line x1="534.75" y1="641.25" x2="667.25" y2="645.2" stroke="#101010" stroke-width="1.25" />
<line x1="667.25" y1="645.2" x2="800" y2="649.1" stroke="#101010" stroke-width="1.25" />
<rect x="531.25" y="637.75" width="7" height="7" fill="#000000" stroke="none" stroke-width="0.6" />
<rect x="663.75" y="641.7" width="7" height="7" fill="#000000" stroke="none" stroke-width="0.6" />
<rect x="796.5" y="645.6" width="7" height="7" fill="#000000" stroke="none" stroke-width="0.6" />
<line x1="534.75" y1="672" x2="667.25" y2="660.4" stroke="#d8222a" stroke-width="1.25" />
<line x1="667.25" y1="660.4" x2="800" y2="664.3" stroke="#d8222a" stroke-width="1.25" />
<rect x="531.25" y="668.5" width="7" height="7" fill="#f01414" stroke="none" stroke-width="0.6" />
<rect x="663.75" y="656.9" width="7" height="7" fill="#f01414" stroke="none" stroke-width="0.6" />
<rect x="796.5" y="660.8" width="7" height="7" fill="#f01414" stroke="none" stroke-width="0.6" />
<line x1="534.75" y1="688.75" x2="667.25" y2="701.4" stroke="#1a1aa8" stroke-width="1.25" />
<line x1="667.25" y1="701.4" x2="800" y2="708.2" stroke="#1a1aa8" stroke-width="1.25" />
<rect x="531.25" y="685.25" width="7" height="7" fill="#0a0ae0" stroke="none" stroke-width="0.6" />
<rect x="663.75" y="697.9" width="7" height="7" fill="#0a0ae0" stroke="none" stroke-width="0.6" />
<rect x="796.5" y="704.7" width="7" height="7" fill="#0a0ae0" stroke="none" stroke-width="0.6" />
<line x1="534.75" y1="735.75" x2="667.25" y2="721.5" stroke="#dc2ccf" stroke-width="1.25" />
<line x1="667.25" y1="721.5" x2="800" y2="735.6" stroke="#dc2ccf" stroke-width="1.25" />
<rect x="531.25" y="732.25" width="7" height="7" fill="#ee18e2" stroke="none" stroke-width="0.6" />
<rect x="663.75" y="718" width="7" height="7" fill="#ee18e2" stroke="none" stroke-width="0.6" />
<rect x="796.5" y="732.1" width="7" height="7" fill="#ee18e2" stroke="none" stroke-width="0.6" />
<rect x="502.2" y="624" width="332.1" height="245.5" fill="none" stroke="#141414" stroke-width="1.35"/>
<line x1="499" y1="794.97" x2="502.2" y2="794.97" stroke="#141414" stroke-width="1.1" />
<line x1="499" y1="721.34" x2="502.2" y2="721.34" stroke="#141414" stroke-width="1.1" />
<line x1="499" y1="678.26" x2="502.2" y2="678.26" stroke="#141414" stroke-width="1.1" />
<line x1="499" y1="647.7" x2="502.2" y2="647.7" stroke="#141414" stroke-width="1.1" />
<line x1="499" y1="624" x2="502.2" y2="624" stroke="#141414" stroke-width="1.1" />
<line x1="500.2" y1="857.41" x2="502.2" y2="857.41" stroke="#141414" stroke-width="1.0" />
<line x1="500.2" y1="838.04" x2="502.2" y2="838.04" stroke="#141414" stroke-width="1.0" />
<line x1="500.2" y1="821.66" x2="502.2" y2="821.66" stroke="#141414" stroke-width="1.0" />
<line x1="500.2" y1="807.48" x2="502.2" y2="807.48" stroke="#141414" stroke-width="1.0" />
<line x1="500.2" y1="783.78" x2="502.2" y2="783.78" stroke="#141414" stroke-width="1.0" />
<line x1="500.2" y1="773.65" x2="502.2" y2="773.65" stroke="#141414" stroke-width="1.0" />
<line x1="500.2" y1="764.41" x2="502.2" y2="764.41" stroke="#141414" stroke-width="1.0" />
<line x1="500.2" y1="755.91" x2="502.2" y2="755.91" stroke="#141414" stroke-width="1.0" />
<line x1="500.2" y1="748.03" x2="502.2" y2="748.03" stroke="#141414" stroke-width="1.0" />
<line x1="500.2" y1="740.7" x2="502.2" y2="740.7" stroke="#141414" stroke-width="1.0" />
<line x1="500.2" y1="733.85" x2="502.2" y2="733.85" stroke="#141414" stroke-width="1.0" />
<line x1="500.2" y1="727.41" x2="502.2" y2="727.41" stroke="#141414" stroke-width="1.0" />
<line x1="500.2" y1="715.59" x2="502.2" y2="715.59" stroke="#141414" stroke-width="1.0" />
<line x1="500.2" y1="710.14" x2="502.2" y2="710.14" stroke="#141414" stroke-width="1.0" />
<line x1="500.2" y1="704.96" x2="502.2" y2="704.96" stroke="#141414" stroke-width="1.0" />
<line x1="500.2" y1="700.02" x2="502.2" y2="700.02" stroke="#141414" stroke-width="1.0" />
<line x1="500.2" y1="695.3" x2="502.2" y2="695.3" stroke="#141414" stroke-width="1.0" />
<line x1="500.2" y1="690.78" x2="502.2" y2="690.78" stroke="#141414" stroke-width="1.0" />
<line x1="500.2" y1="686.44" x2="502.2" y2="686.44" stroke="#141414" stroke-width="1.0" />
<line x1="500.2" y1="682.27" x2="502.2" y2="682.27" stroke="#141414" stroke-width="1.0" />
<line x1="500.2" y1="674.4" x2="502.2" y2="674.4" stroke="#141414" stroke-width="1.0" />
<line x1="500.2" y1="670.67" x2="502.2" y2="670.67" stroke="#141414" stroke-width="1.0" />
<line x1="500.2" y1="667.07" x2="502.2" y2="667.07" stroke="#141414" stroke-width="1.0" />
<line x1="500.2" y1="663.59" x2="502.2" y2="663.59" stroke="#141414" stroke-width="1.0" />
<line x1="500.2" y1="660.22" x2="502.2" y2="660.22" stroke="#141414" stroke-width="1.0" />
<line x1="500.2" y1="656.95" x2="502.2" y2="656.95" stroke="#141414" stroke-width="1.0" />
<line x1="500.2" y1="653.78" x2="502.2" y2="653.78" stroke="#141414" stroke-width="1.0" />
<line x1="500.2" y1="650.7" x2="502.2" y2="650.7" stroke="#141414" stroke-width="1.0" />
<line x1="500.2" y1="644.79" x2="502.2" y2="644.79" stroke="#141414" stroke-width="1.0" />
<line x1="500.2" y1="641.96" x2="502.2" y2="641.96" stroke="#141414" stroke-width="1.0" />
<line x1="500.2" y1="639.2" x2="502.2" y2="639.2" stroke="#141414" stroke-width="1.0" />
<line x1="500.2" y1="636.51" x2="502.2" y2="636.51" stroke="#141414" stroke-width="1.0" />
<line x1="500.2" y1="633.89" x2="502.2" y2="633.89" stroke="#141414" stroke-width="1.0" />
<line x1="500.2" y1="631.33" x2="502.2" y2="631.33" stroke="#141414" stroke-width="1.0" />
<line x1="500.2" y1="628.83" x2="502.2" y2="628.83" stroke="#141414" stroke-width="1.0" />
<line x1="500.2" y1="626.39" x2="502.2" y2="626.39" stroke="#141414" stroke-width="1.0" />
<line x1="534.75" y1="869.5" x2="534.75" y2="872.7" stroke="#141414" stroke-width="1.1" />
<line x1="667.25" y1="869.5" x2="667.25" y2="872.7" stroke="#141414" stroke-width="1.1" />
<line x1="800" y1="869.5" x2="800" y2="872.7" stroke="#141414" stroke-width="1.1" />
<line x1="601" y1="869.5" x2="601" y2="871.5" stroke="#141414" stroke-width="1.1" />
<line x1="733.6" y1="869.5" x2="733.6" y2="871.5" stroke="#141414" stroke-width="1.1" />
<text x="496.2" y="798.27" font-size="12.9" text-anchor="end" fill="#0a0a0a" font-weight="normal" >2000</text>
<text x="496.2" y="724.64" font-size="12.9" text-anchor="end" fill="#0a0a0a" font-weight="normal" >4000</text>
<text x="496.2" y="681.56" font-size="12.9" text-anchor="end" fill="#0a0a0a" font-weight="normal" >6000</text>
<text x="496.2" y="651" font-size="12.9" text-anchor="end" fill="#0a0a0a" font-weight="normal" >8000</text>
<text x="496.2" y="627.3" font-size="12.9" text-anchor="end" fill="#0a0a0a" font-weight="normal" >10000</text>
<text x="534.75" y="885.2" font-size="13.0" text-anchor="middle" fill="#0a0a0a" font-weight="normal" >1</text>
<text x="667.25" y="885.2" font-size="13.0" text-anchor="middle" fill="#0a0a0a" font-weight="normal" >2</text>
<text x="800" y="885.2" font-size="13.0" text-anchor="middle" fill="#0a0a0a" font-weight="normal" >3</text>
<text x="665" y="907.3" font-size="17.8" text-anchor="middle" fill="#0a0a0a" font-weight="normal" >Cycles</text>
<text x="447.7" y="745.4" font-size="17.8" text-anchor="middle" fill="#0a0a0a" font-weight="normal" transform="rotate(-90 447.7 745.4)" >Water uptake (wt%)</text>
<text x="522.4" y="813" font-size="13.7" text-anchor="start" fill="#111111" font-weight="normal" >SDBS(10%)-sPI</text>
<text x="623.6" y="813" font-size="13.45" text-anchor="start" fill="#111111" font-weight="normal" >(0.03)</text>
<line x1="505.8" y1="809.6" x2="518.3" y2="809.6" stroke="#111111" stroke-width="1.1" />
<text x="522.4" y="829.25" font-size="13.7" text-anchor="start" fill="#d9262b" font-weight="normal" >SDBS(10%)-sPI</text>
<text x="623.6" y="829.25" font-size="13.45" text-anchor="start" fill="#d9262b" font-weight="normal" >(0.045)</text>
<line x1="505.8" y1="825.85" x2="518.3" y2="825.85" stroke="#d9262b" stroke-width="1.1" />
<text x="522.4" y="845" font-size="13.7" text-anchor="start" fill="#1a1ab4" font-weight="normal" >SDBS(10%)-sPI</text>
<text x="623.6" y="845" font-size="13.45" text-anchor="start" fill="#1a1ab4" font-weight="normal" >(0.06)</text>
<line x1="505.8" y1="841.6" x2="518.3" y2="841.6" stroke="#1a1ab4" stroke-width="1.1" />
<text x="522.4" y="861.25" font-size="13.7" text-anchor="start" fill="#d028b4" font-weight="normal" >SDBS(10%)-sPI</text>
<text x="623.6" y="861.25" font-size="13.45" text-anchor="start" fill="#d028b4" font-weight="normal" >(0.075)</text>
<line x1="505.8" y1="857.85" x2="518.3" y2="857.85" stroke="#d028b4" stroke-width="1.1" />
</svg></body></html>
